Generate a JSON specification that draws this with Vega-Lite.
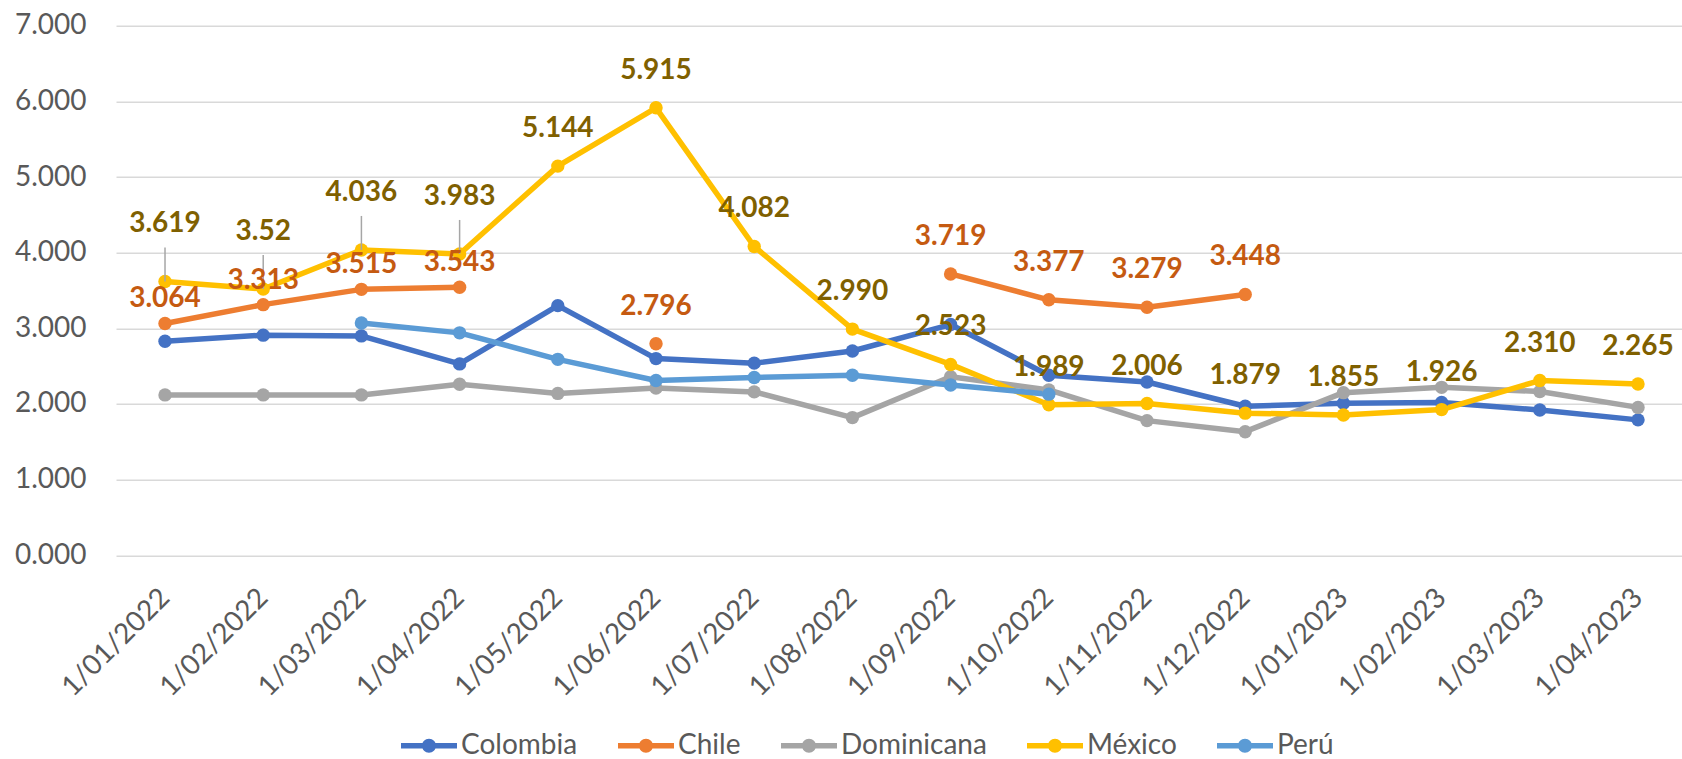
{
  "$schema": "https://vega.github.io/schema/vega-lite/v6.json",
  "autosize": {"type": "none"},
  "width": 1566,
  "height": 529.6,
  "padding": {"left": 116, "top": 25.7, "right": 0, "bottom": 203.7},
  "background": "white",
  "config": {"view": {"stroke": null}},
  "data": {"values": [
    {"fecha": "1/01/2022", "pais": "Colombia", "valor": 2.83},
    {"fecha": "1/02/2022", "pais": "Colombia", "valor": 2.91},
    {"fecha": "1/03/2022", "pais": "Colombia", "valor": 2.90},
    {"fecha": "1/04/2022", "pais": "Colombia", "valor": 2.53},
    {"fecha": "1/05/2022", "pais": "Colombia", "valor": 3.30},
    {"fecha": "1/06/2022", "pais": "Colombia", "valor": 2.60},
    {"fecha": "1/07/2022", "pais": "Colombia", "valor": 2.54},
    {"fecha": "1/08/2022", "pais": "Colombia", "valor": 2.70},
    {"fecha": "1/09/2022", "pais": "Colombia", "valor": 3.05},
    {"fecha": "1/10/2022", "pais": "Colombia", "valor": 2.38},
    {"fecha": "1/11/2022", "pais": "Colombia", "valor": 2.29},
    {"fecha": "1/12/2022", "pais": "Colombia", "valor": 1.97},
    {"fecha": "1/01/2023", "pais": "Colombia", "valor": 2.01},
    {"fecha": "1/02/2023", "pais": "Colombia", "valor": 2.02},
    {"fecha": "1/03/2023", "pais": "Colombia", "valor": 1.92},
    {"fecha": "1/04/2023", "pais": "Colombia", "valor": 1.79},
    {"fecha": "1/01/2022", "pais": "Chile", "valor": 3.064, "etiqueta": "3.064"},
    {"fecha": "1/02/2022", "pais": "Chile", "valor": 3.313, "etiqueta": "3.313"},
    {"fecha": "1/03/2022", "pais": "Chile", "valor": 3.515, "etiqueta": "3.515"},
    {"fecha": "1/04/2022", "pais": "Chile", "valor": 3.543, "etiqueta": "3.543"},
    {"fecha": "1/05/2022", "pais": "Chile", "valor": null},
    {"fecha": "1/06/2022", "pais": "Chile", "valor": 2.796, "etiqueta": "2.796"},
    {"fecha": "1/07/2022", "pais": "Chile", "valor": null},
    {"fecha": "1/08/2022", "pais": "Chile", "valor": null},
    {"fecha": "1/09/2022", "pais": "Chile", "valor": 3.719, "etiqueta": "3.719"},
    {"fecha": "1/10/2022", "pais": "Chile", "valor": 3.377, "etiqueta": "3.377"},
    {"fecha": "1/11/2022", "pais": "Chile", "valor": 3.279, "etiqueta": "3.279"},
    {"fecha": "1/12/2022", "pais": "Chile", "valor": 3.448, "etiqueta": "3.448"},
    {"fecha": "1/01/2022", "pais": "Dominicana", "valor": 2.12},
    {"fecha": "1/02/2022", "pais": "Dominicana", "valor": 2.12},
    {"fecha": "1/03/2022", "pais": "Dominicana", "valor": 2.12},
    {"fecha": "1/04/2022", "pais": "Dominicana", "valor": 2.26},
    {"fecha": "1/05/2022", "pais": "Dominicana", "valor": 2.14},
    {"fecha": "1/06/2022", "pais": "Dominicana", "valor": 2.21},
    {"fecha": "1/07/2022", "pais": "Dominicana", "valor": 2.16},
    {"fecha": "1/08/2022", "pais": "Dominicana", "valor": 1.82},
    {"fecha": "1/09/2022", "pais": "Dominicana", "valor": 2.36},
    {"fecha": "1/10/2022", "pais": "Dominicana", "valor": 2.185},
    {"fecha": "1/11/2022", "pais": "Dominicana", "valor": 1.78},
    {"fecha": "1/12/2022", "pais": "Dominicana", "valor": 1.634},
    {"fecha": "1/01/2023", "pais": "Dominicana", "valor": 2.15},
    {"fecha": "1/02/2023", "pais": "Dominicana", "valor": 2.22},
    {"fecha": "1/03/2023", "pais": "Dominicana", "valor": 2.165},
    {"fecha": "1/04/2023", "pais": "Dominicana", "valor": 1.955},
    {"fecha": "1/01/2022", "pais": "México", "valor": 3.619, "etiqueta": "3.619"},
    {"fecha": "1/02/2022", "pais": "México", "valor": 3.52, "etiqueta": "3.52"},
    {"fecha": "1/03/2022", "pais": "México", "valor": 4.036, "etiqueta": "4.036"},
    {"fecha": "1/04/2022", "pais": "México", "valor": 3.983, "etiqueta": "3.983"},
    {"fecha": "1/05/2022", "pais": "México", "valor": 5.144, "etiqueta": "5.144"},
    {"fecha": "1/06/2022", "pais": "México", "valor": 5.915, "etiqueta": "5.915"},
    {"fecha": "1/07/2022", "pais": "México", "valor": 4.082, "etiqueta": "4.082"},
    {"fecha": "1/08/2022", "pais": "México", "valor": 2.990, "etiqueta": "2.990"},
    {"fecha": "1/09/2022", "pais": "México", "valor": 2.523, "etiqueta": "2.523"},
    {"fecha": "1/10/2022", "pais": "México", "valor": 1.989, "etiqueta": "1.989"},
    {"fecha": "1/11/2022", "pais": "México", "valor": 2.006, "etiqueta": "2.006"},
    {"fecha": "1/12/2022", "pais": "México", "valor": 1.879, "etiqueta": "1.879"},
    {"fecha": "1/01/2023", "pais": "México", "valor": 1.855, "etiqueta": "1.855"},
    {"fecha": "1/02/2023", "pais": "México", "valor": 1.926, "etiqueta": "1.926"},
    {"fecha": "1/03/2023", "pais": "México", "valor": 2.310, "etiqueta": "2.310"},
    {"fecha": "1/04/2023", "pais": "México", "valor": 2.265, "etiqueta": "2.265"},
    {"fecha": "1/03/2022", "pais": "Perú", "valor": 3.07},
    {"fecha": "1/04/2022", "pais": "Perú", "valor": 2.94},
    {"fecha": "1/05/2022", "pais": "Perú", "valor": 2.59},
    {"fecha": "1/06/2022", "pais": "Perú", "valor": 2.31},
    {"fecha": "1/07/2022", "pais": "Perú", "valor": 2.35},
    {"fecha": "1/08/2022", "pais": "Perú", "valor": 2.38},
    {"fecha": "1/09/2022", "pais": "Perú", "valor": 2.25},
    {"fecha": "1/10/2022", "pais": "Perú", "valor": 2.13}
  ]},
  "encoding": {
    "x": {
      "field": "fecha", "type": "ordinal",
      "scale": {
        "type": "point",
        "domain": ["1/01/2022","1/02/2022","1/03/2022","1/04/2022","1/05/2022","1/06/2022","1/07/2022","1/08/2022","1/09/2022","1/10/2022","1/11/2022","1/12/2022","1/01/2023","1/02/2023","1/03/2023","1/04/2023"],
        "padding": 0.4735, "align": 0.527
      },
      "axis": {
        "title": null, "domain": false, "ticks": false, "tickSize": 0, "grid": false,
        "labelAngle": -45, "labelAlign": "right", "labelBaseline": "middle",
        "labelPadding": 38, "labelFont": "Lato", "labelFontSize": 28,
        "labelColor": "#595959", "labelOverlap": false, "labelBound": false, "labelFlush": false
      }
    },
    "y": {
      "field": "valor", "type": "quantitative",
      "scale": {"domain": [0, 7], "nice": false, "zero": true},
      "axis": {
        "title": null, "domain": false, "ticks": false, "tickSize": 0,
        "values": [0, 1, 2, 3, 4, 5, 6, 7], "format": ".3f",
        "labelFont": "Lato", "labelFontSize": 28, "labelColor": "#595959",
        "labelPadding": 30, "gridColor": "#D9D9D9", "gridWidth": 1.5
      }
    }
  },
  "layer": [
    {
      "mark": {"type": "line", "strokeWidth": 5.5, "strokeJoin": "round", "strokeCap": "round", "invalid": "break-paths-filter-domains"},
      "encoding": {
        "color": {
          "field": "pais", "type": "nominal",
          "scale": {
            "domain": ["Colombia", "Chile", "Dominicana", "México", "Perú"],
            "range": ["#4472C4", "#ED7D31", "#A5A5A5", "#FFC000", "#5B9BD5"]
          },
          "legend": {
            "orient": "none", "legendX": 285, "legendY": 692, "direction": "horizontal",
            "title": null, "padding": 0,
            "symbolType": "M-1,-0.1H1V0.1H-1Z M-0.25,0A0.25,0.25 0 1,1 0.25,0A0.25,0.25 0 1,1 -0.25,0Z",
            "symbolSize": 3136, "symbolStrokeWidth": 0, "symbolOpacity": 1,
            "labelFont": "Lato", "labelFontSize": 28, "labelColor": "#595959",
            "labelOffset": 4, "columnPadding": 40, "labelLimit": 400,
            "encode": {"symbols": {"update": {"fill": {"scale": "color", "field": "value"}, "fillOpacity": {"value": 1}, "strokeWidth": {"value": 0}}}}
          }
        }
      }
    },
    {
      "transform": [{"filter": "datum.valor != null"}],
      "mark": {"type": "point", "filled": true, "size": 180, "opacity": 1},
      "encoding": {
        "color": {"field": "pais", "type": "nominal"}
      }
    },
    {
      "transform": [
        {"filter": "datum.pais === 'México' && indexof(['1/01/2022','1/02/2022','1/03/2022','1/04/2022'], datum.fecha) >= 0"}
      ],
      "mark": {"type": "rule", "color": "#A6A6A6", "strokeWidth": 1.5, "y2Offset": -34},
      "encoding": {
        "y2": {"field": "valor"}
      }
    },
    {
      "transform": [
        {"filter": "datum.etiqueta != null && indexof(['1/01/2022','1/02/2022','1/03/2022','1/04/2022'], datum.fecha) < 0"}
      ],
      "mark": {"type": "text", "font": "Lato", "fontSize": 28, "fontWeight": "bold", "baseline": "middle", "align": "center", "dy": -37},
      "encoding": {
        "text": {"field": "etiqueta"},
        "color": {"condition": {"test": "datum.pais === 'Chile'", "value": "#C55A11"}, "value": "#7F6000"}
      }
    },
    {
      "transform": [
        {"filter": "datum.pais === 'Chile' && indexof(['1/01/2022','1/02/2022','1/03/2022','1/04/2022'], datum.fecha) >= 0"}
      ],
      "mark": {"type": "text", "font": "Lato", "fontSize": 28, "fontWeight": "bold", "baseline": "middle", "align": "center", "dy": -24, "color": "#C55A11"},
      "encoding": {
        "text": {"field": "etiqueta"}
      }
    },
    {
      "transform": [
        {"filter": "datum.pais === 'México' && indexof(['1/01/2022','1/02/2022','1/03/2022','1/04/2022'], datum.fecha) >= 0"}
      ],
      "mark": {"type": "text", "font": "Lato", "fontSize": 28, "fontWeight": "bold", "baseline": "middle", "align": "center", "dy": -57, "color": "#7F6000"},
      "encoding": {
        "text": {"field": "etiqueta"}
      }
    }
  ]
}
